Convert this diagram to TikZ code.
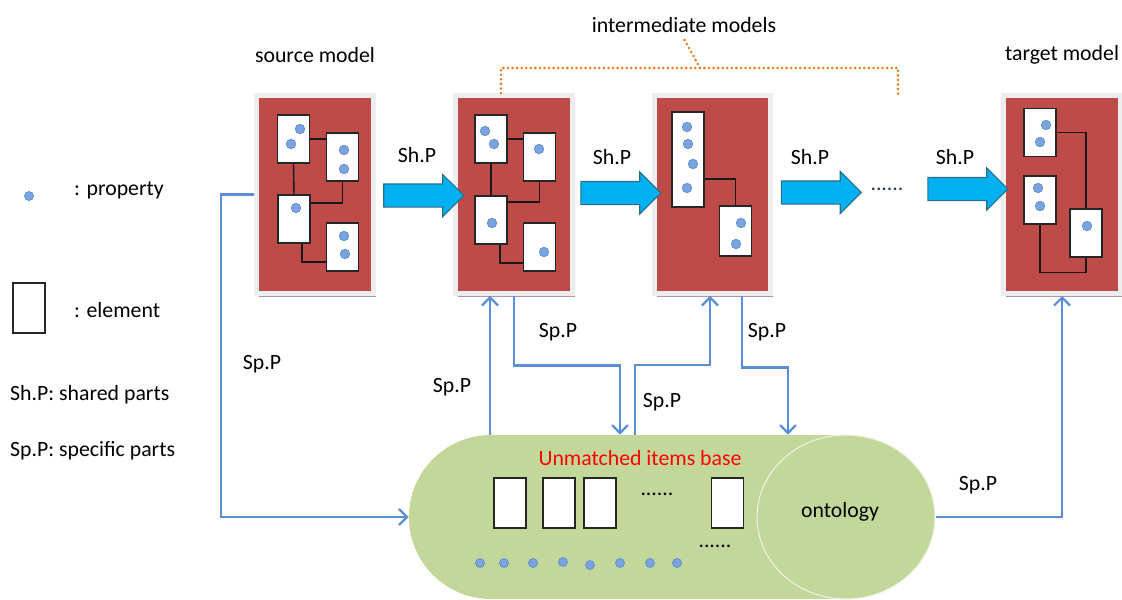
\documentclass[tikz,border=0pt]{standalone}
\usepackage{fontspec}
\setsansfont{Carlito}
\usepackage{xcolor}
\usepackage{tikz}
\usetikzlibrary{shapes,shapes.arrows,shapes.misc,shapes.geometric,arrows.meta,positioning,calc,shadows}
\definecolor{modelred}{HTML}{BE4B48}
\definecolor{framegray}{HTML}{EEEEEE}
\definecolor{shadowbrown}{HTML}{B39494}
\definecolor{shcyan}{HTML}{00B0F0}
\definecolor{shline}{HTML}{2C6E8A}
\definecolor{spblue}{HTML}{5A8ED6}
\definecolor{dotblue}{HTML}{7BA3DD}
\definecolor{basegreen}{HTML}{C4D79B}
\definecolor{bracketorange}{HTML}{E8761C}
\definecolor{dotsdark}{HTML}{1F3864}

\begin{document}
\begin{tikzpicture}[x=0.02cm, y=-0.02cm, font=\sffamily\fontsize{12.4}{14}\selectfont,
        model/.style={rectangle, fill=modelred, draw=framegray, line width=0.1cm,
            minimum width=2.34cm, minimum height=3.96cm, inner sep=0,
            drop shadow={shadow xshift=0.05cm, shadow yshift=-0.07cm, fill=shadowbrown, opacity=1}},
        elem/.style={rectangle, draw=black!85, fill=white, line width=0.8pt,
            minimum width=0.64cm, minimum height=0.96cm, inner sep=0},
        prop/.style={circle, fill=dotblue, draw=spblue, line width=0.4pt,
            minimum size=0.19cm, inner sep=0},
        wire/.style={draw=black!90, line width=0.8pt},
        sharrow/.style={single arrow, fill=shcyan, draw=shline, line width=0.6pt,
            inner xsep=0, inner ysep=0.22cm, minimum height=1.6cm,
            single arrow head extend=0.19cm},
        spline/.style={draw=spblue, line width=1.3pt, -{Straight Barb[length=1.6mm, width=3.2mm]}},
        bracket/.style={draw=bracketorange, line width=1.6pt, dash pattern=on 0pt off 2.6pt, line cap=round}]
        \useasboundingbox (0,0) rectangle (1122,599);

        % Models
        \node[model] (src) at (315,194.5) {};
        \node[model] (im1) at (514,194.5) {};
        \node[model] (im2) at (712.5,194.5) {};
        \node[model] (tgt) at (1062,194.5) {};
        \node (srclabel) at (315,55) {source model};
        \node (tgtlabel) at (1062,55) {target model};
        \node (imlabel) at (684,25) {intermediate models};

        % Elements of the source model
        \node[elem] (s1) at (293.5,139) {};
        \node[elem] (s2) at (342.5,157) {};
        \node[elem] (s3) at (294,219) {};
        \node[elem] (s4) at (342.5,247) {};
        \draw[wire] (s1.east) -- (s1.east -| s2.west);
        \draw[wire] (s1.south) -- (s3.north);
        \draw[wire] ([yshift=0.32cm]s3.east) -| (s2.south);
        \draw[wire] ([xshift=0.16cm]s3.south) |- ([yshift=-0.3cm]s4.west);

        % Elements of the first intermediate model
        \node[elem] (a1) at (491,139) {};
        \node[elem] (a2) at (539.5,157) {};
        \node[elem] (a3) at (491,220) {};
        \node[elem] (a4) at (539.5,247) {};
        \draw[wire] (a1.east) -- (a1.east -| a2.west);
        \draw[wire] (a1.south) -- (a3.north);
        \draw[wire] ([yshift=0.36cm]a3.east) -| (a2.south);
        \draw[wire] ([xshift=0.18cm]a3.south) |- ([yshift=-0.32cm]a4.west);

        % Elements of the second intermediate model
        \node[elem, minimum height=1.9cm] (b1) at (688,159.5) {};
        \node[elem, minimum height=1cm] (b2) at (735.5,231) {};
        \draw[wire] ([yshift=-0.39cm]b1.east) -| (b2.north);

        % Elements of the target model
        \node[elem] (t1) at (1040,132.5) {};
        \node[elem] (t2) at (1040,200) {};
        \node[elem] (t3) at (1086,233) {};
        \draw[wire] (t1.east) -| (t3.north);
        \draw[wire] (t2.south) -- ++(0,48) -| (t3.south);

        % Properties
        \foreach \px/\py [count=\i] in {300/129, 291/144, 344/150, 344/169, 296/208, 344/236, 345/254,
                485/131, 494/144, 539/149, 492/223, 544/252,
                687/127, 688/144, 693/164, 687/188, 741/223, 736/244,
                1046/125, 1040/142, 1038/188, 1040/206, 1087/226}
            \node[prop] (p\i) at (\px,\py) {};

        % Shared parts
        \node[sharrow] (sh1) at (418,195.5) {};
        \node[sharrow] (sh2) at (615,193) {};
        \node[sharrow] (sh3) at (815.5,192.5) {};
        \node[sharrow] (sh4) at (962,189) {};
        \node (shl1) at (417,155) {Sh.P};
        \node (shl2) at (612,157) {Sh.P};
        \node (shl3) at (810,157) {Sh.P};
        \node (shl4) at (955,157) {Sh.P};
        \node[text=dotsdark] (more) at (887,189) {......};

        % Intermediate models bracket
        \coordinate (imtop) at (700,68);
        \coordinate (imend) at (898,98);
        \draw[bracket] ([xshift=-0.26cm]im1.north) |- (imtop) -| (imend);
        \draw[bracket] (imtop) -- (imlabel.south);

        % Unmatched items base and ontology
        \node[rounded rectangle, fill=basegreen, minimum width=10.64cm, minimum height=3.28cm] (base) at (669,517) {};
        \node[ellipse, fill=basegreen, draw=white!70!basegreen, line width=0.6pt,
            minimum width=3.56cm, minimum height=3.28cm] (onto) at (846,517) {};
        \node (ontolabel) at (840,512) {ontology};
        \node[text=red] (baselabel) at (640,458) {Unmatched items base};
        \node[elem, minimum height=1cm] (u1) at (510,503) {};
        \node[elem, minimum height=1cm] (u2) at (559,503) {};
        \node[elem, minimum height=1cm] (u3) at (600,503) {};
        \node[elem, minimum height=1cm] (u4) at (727.5,503) {};
        \node (umore) at (657,494) {......};
        \foreach \px/\py [count=\i] in {480/563, 504/563, 533/563, 563/562, 590/565, 620/563, 650/563, 677/563}
            \node[prop, minimum size=0.18cm] (q\i) at (\px,\py) {};
        \node (pmore) at (715,546) {......};

        % Specific parts
        \draw[spline] (src.west) -- ++(-33,0) |- (base.west);
        \draw[spline] ([xshift=-0.48cm]im1.south |- base.north) -- ([xshift=-0.48cm]im1.south);
        \draw[spline] (im1.south) -- ++(0,69.5) -| ([xshift=-0.98cm]base.north);
        \draw[spline] ([xshift=-0.68cm]base.north) -- ++(0,-70) -| ([xshift=-0.05cm]im2.south);
        \draw[spline] ([xshift=0.59cm]im2.south) -- ++(0,71.5) -| ([xshift=2.38cm]base.north);
        \draw[spline] (onto.east) -| (tgt.south);
        \node (spl1) at (262,364) {Sp.P};
        \node (spl2) at (452,387) {Sp.P};
        \node (spl3) at (558,332) {Sp.P};
        \node (spl4) at (662,402) {Sp.P};
        \node (spl5) at (767,332) {Sp.P};
        \node (spl6) at (978,485) {Sp.P};

        % Legend
        \node[prop, minimum size=0.18cm] (lprop) at (29,196) {};
        \node[anchor=west] (lproptext) at (68,190) {: property};
        \node[elem, minimum height=1cm] (lelem) at (29,308) {};
        \node[anchor=west] (lelemtext) at (68,310) {: element};
        \node[anchor=west] (lsh) at (4,395) {Sh.P: shared parts};
        \node[anchor=west] (lsp) at (4,451) {Sp.P: specific parts};
    \end{tikzpicture}
\end{document}
